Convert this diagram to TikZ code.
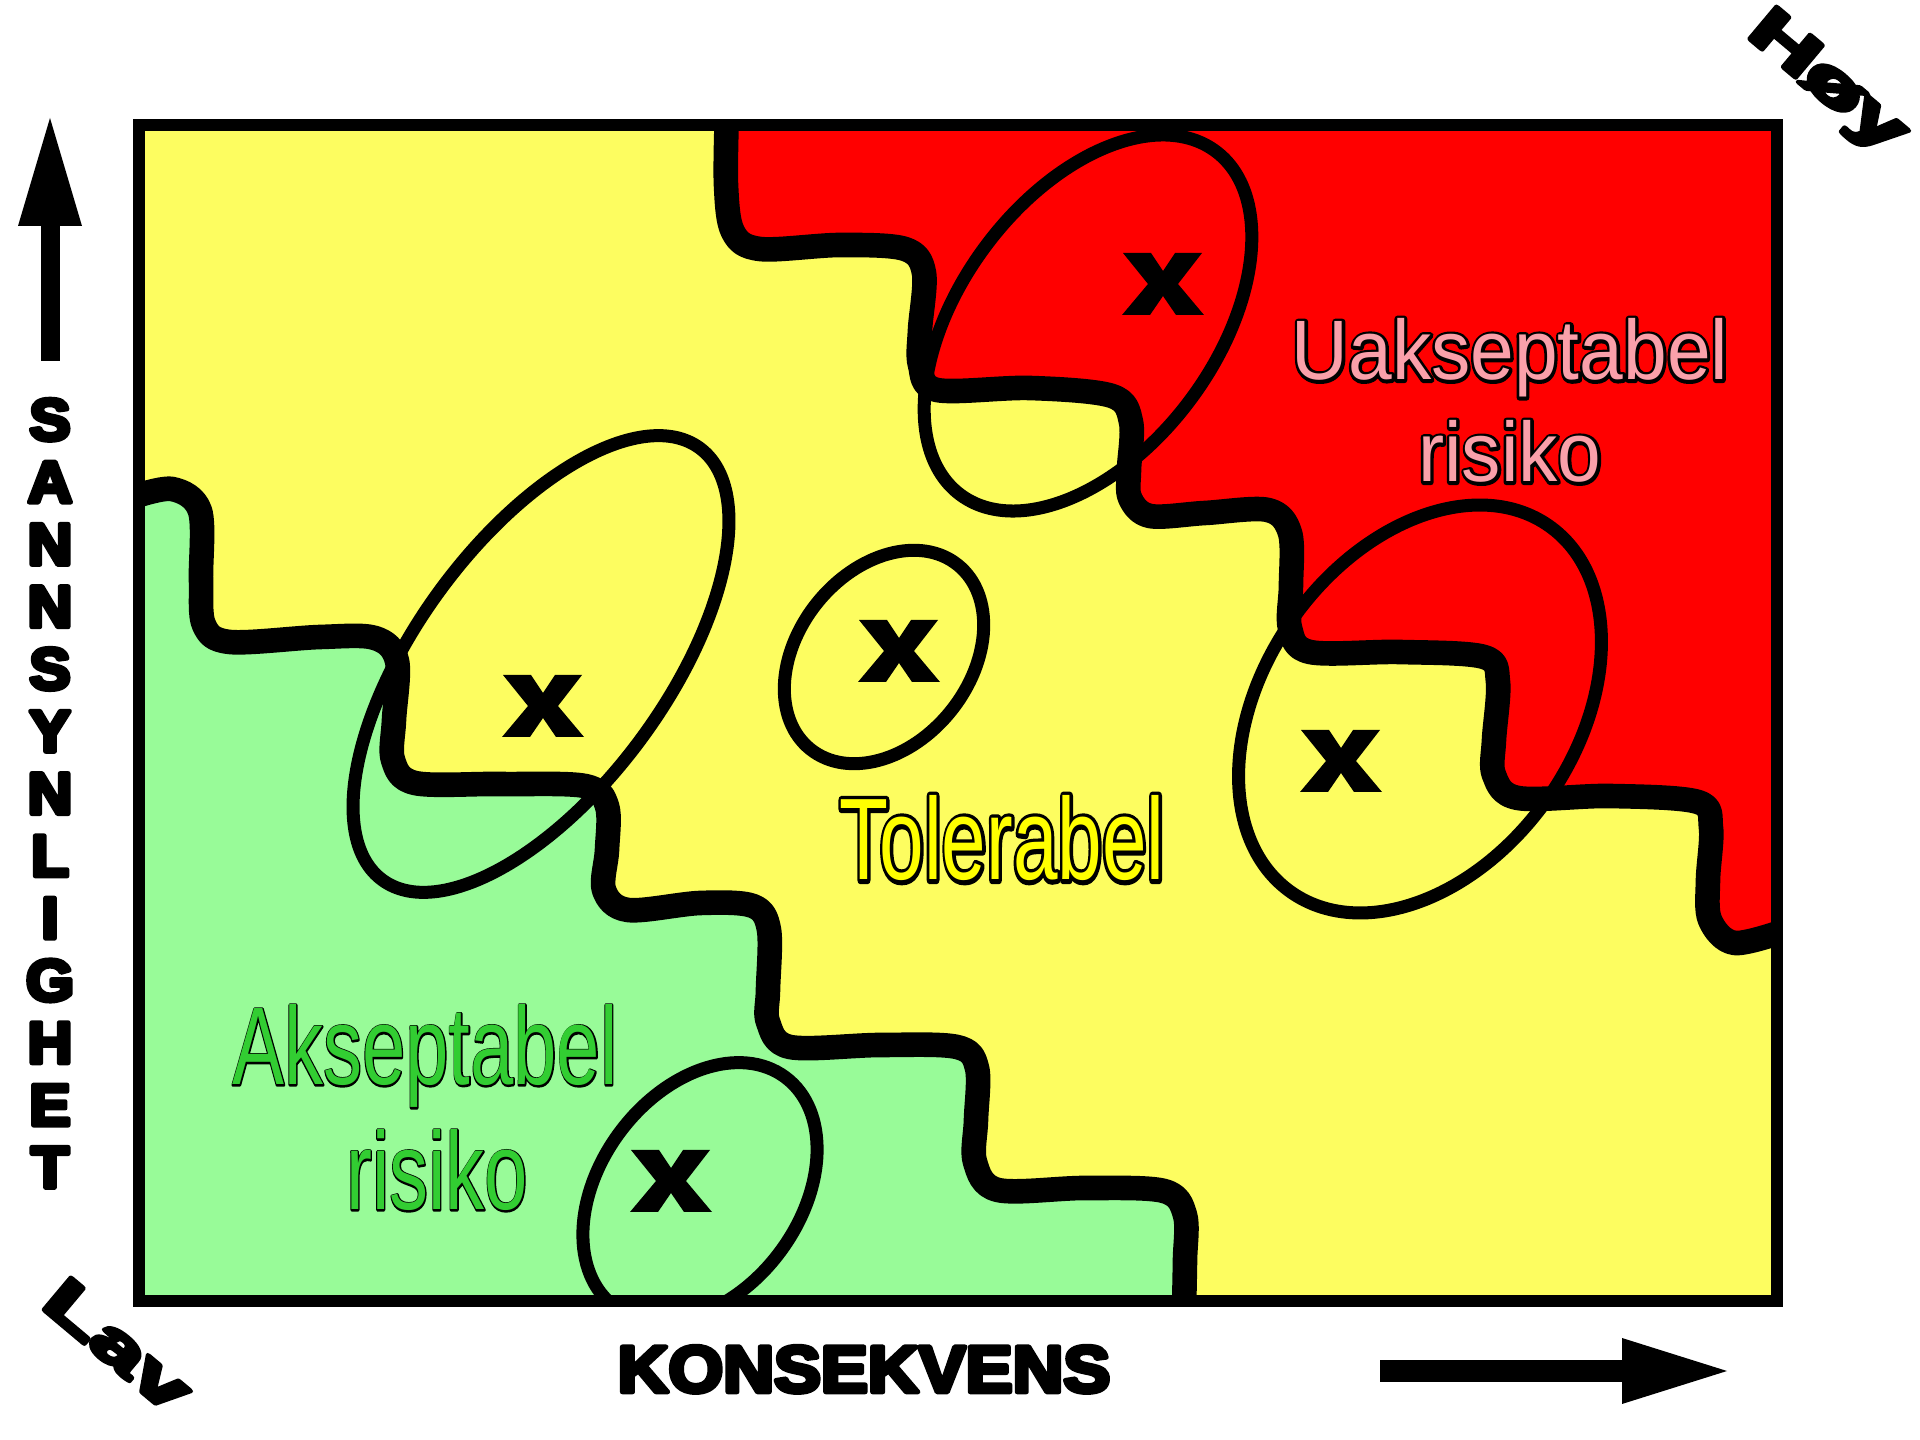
\documentclass[tikz,border=0pt]{standalone}
\usepackage{fontspec}
\setmainfont{Liberation Sans}
\usepackage{graphicx}
\definecolor{zyellow}{RGB}{253,253,96}
\definecolor{zred}{RGB}{255,0,0}
\definecolor{zgreen}{RGB}{152,251,152}
\definecolor{tpink}{RGB}{250,160,170}
\definecolor{tgreen}{RGB}{50,205,50}
\definecolor{tyellow}{RGB}{255,255,0}
% black text thickened by a stroke of its own outline
\newcommand\strk[2]{\special{pdf:literal direct 2 Tr #1 w 0 0 0 RG 1 j}#2\special{pdf:literal direct 0 Tr}}
% coloured text with a black outline drawn outside it
\newcommand\outl[3]{\rlap{\textcolor{black}{\strk{#2}{#3}}}\textcolor{#1}{#3}}
\begin{document}
\begin{tikzpicture}[x=0.01cm, y=-0.01cm,
  zoneline/.style={line width=7pt, line join=round},
  blob/.style={line width=3.7pt},
  framebox/.style={line width=3.4pt},
  lbl/.style={inner sep=0pt, anchor=base},
  axislet/.style={inner sep=0pt, anchor=base, font=\fontsize{16.7}{18}\selectfont\bfseries},
  cornerlbl/.style={inner sep=0pt, rotate=-40, font=\fontsize{17.5}{20}\selectfont\bfseries},
  xmark/.pic={\fill[black] (-40,-31) -- (-12,-31) -- (0,-13) -- (12,-31) -- (39,-31) -- (15,0) -- (41,31) -- (13,31) -- (0,12) -- (-13,31) -- (-41,31) -- (-15,0) -- cycle;}
]
\useasboundingbox (0,0) rectangle (1920,1440);
\fill[white] (0,0) rectangle (1920,1440);

\begin{scope}
\clip (139,125) rectangle (1777,1301);
\fill[zyellow] (130,115) rectangle (1790,1310);
\fill[zred] plot[smooth, tension=0.55] coordinates {(727,110) (726,185) (733,232) (760,249) (840,245) (905,249) (924,273) (920,330) (920,365) (937,390) (1030,388) (1112,396) (1131,422) (1129,470) (1130,498) (1150,516) (1205,513) (1268,510) (1290,533) (1291,585) (1290,628) (1310,652) (1400,652) (1484,657) (1498,682) (1494,740) (1494,775) (1518,798) (1610,796) (1698,802) (1711,828) (1708,880) (1710,920) (1735,943) (1790,929)} -- (1790,110) -- cycle;
\fill[zgreen] plot[smooth, tension=0.55] coordinates {(130,498) (172,489) (200,511) (201,580) (204,625) (230,642) (320,637) (375,638) (397,661) (394,720) (393,760) (415,783) (500,784) (585,786) (607,806) (607,850) (604,890) (628,910) (700,903) (753,906) (769,930) (768,990) (768,1022) (790,1047) (880,1045) (957,1047) (977,1068) (976,1120) (975,1162) (998,1190) (1085,1188) (1164,1191) (1185,1215) (1185,1260) (1184,1310)} -- (130,1310) -- cycle;

\draw[blob, rotate around={53.4:(1088,323)}] (1088,323) ellipse [x radius=214, y radius=128];
\draw[blob, rotate around={54.8:(1420,709)}] (1420,709) ellipse [x radius=224, y radius=156];
\draw[blob, rotate around={53.7:(541,664)}] (541,664) ellipse [x radius=268, y radius=125];
\draw[blob, rotate around={51.4:(884,657)}] (884,657) ellipse [x radius=118, y radius=86];
\draw[blob, rotate around={53.4:(700,1192)}] (700,1192) ellipse [x radius=143, y radius=100];

\draw[zoneline] plot[smooth, tension=0.55] coordinates {(727,110) (726,185) (733,232) (760,249) (840,245) (905,249) (924,273) (920,330) (920,365) (937,390) (1030,388) (1112,396) (1131,422) (1129,470) (1130,498) (1150,516) (1205,513) (1268,510) (1290,533) (1291,585) (1290,628) (1310,652) (1400,652) (1484,657) (1498,682) (1494,740) (1494,775) (1518,798) (1610,796) (1698,802) (1711,828) (1708,880) (1710,920) (1735,943) (1790,929)};
\draw[zoneline] plot[smooth, tension=0.55] coordinates {(130,498) (172,489) (200,511) (201,580) (204,625) (230,642) (320,637) (375,638) (397,661) (394,720) (393,760) (415,783) (500,784) (585,786) (607,806) (607,850) (604,890) (628,910) (700,903) (753,906) (769,930) (768,990) (768,1022) (790,1047) (880,1045) (957,1047) (977,1068) (976,1120) (975,1162) (998,1190) (1085,1188) (1164,1191) (1185,1215) (1185,1260) (1184,1310)};
\end{scope}
\draw[framebox] (139,125) rectangle (1777,1301);

\pic at (1163,284) {xmark};
\pic at (543,706) {xmark};
\pic at (899,651) {xmark};
\pic at (1341,761) {xmark};
\pic at (671,1181) {xmark};

\fill (40.5,361) rectangle (59.5,224);
\fill (18,226) -- (82,226) -- (50,118) -- cycle;
\fill (1380,1360) rectangle (1624,1382);
\fill (1622,1338) -- (1622,1404) -- (1727,1371) -- cycle;

\node[lbl] (uak1) at (1510,380) {\fontsize{24}{28}\selectfont\scalebox{0.93}[1]{\outl{tpink}{1.8}{Uakseptabel}}};
\node[lbl] (uak2) at (1510,482) {\fontsize{24}{28}\selectfont\scalebox{0.93}[1]{\outl{tpink}{1.8}{risiko}}};
\node[lbl] (ak1) at (425,1085) {\fontsize{31.4}{36}\selectfont\scalebox{0.705}[1]{\outl{tgreen}{0.9}{Akseptabel}}};
\node[lbl] (ak2) at (437,1210) {\fontsize{31.4}{36}\selectfont\scalebox{0.705}[1]{\outl{tgreen}{0.9}{risiko}}};
\node[lbl] (tol) at (1002,880) {\fontsize{33}{40}\selectfont\scalebox{0.69}[1]{\outl{tyellow}{2.4}{Tolerabel}}};

\foreach \l [count=\i from 0] in {S,A,N,N,S,Y,N,L,I,G,H,E,T}
  \node[axislet] (s\i) at (50,{440+62.3*\i}) {\scalebox{1.05}[1]{\strk{1.3}{\l}}};
\node[lbl, font=\fontsize{18.7}{22}\selectfont\bfseries] (kons) at (864,1392) {\scalebox{1.07}[1]{\strk{1.3}{KONSEKVENS}}};

\node[cornerlbl] (hoy) at (1826,84) {\scalebox{1.6}[1]{\strk{1.2}{Høy}}};
\node[cornerlbl] (lav) at (118,1345) {\scalebox{1.6}[1]{\strk{1.2}{Lav}}};
\end{tikzpicture}
\end{document}
